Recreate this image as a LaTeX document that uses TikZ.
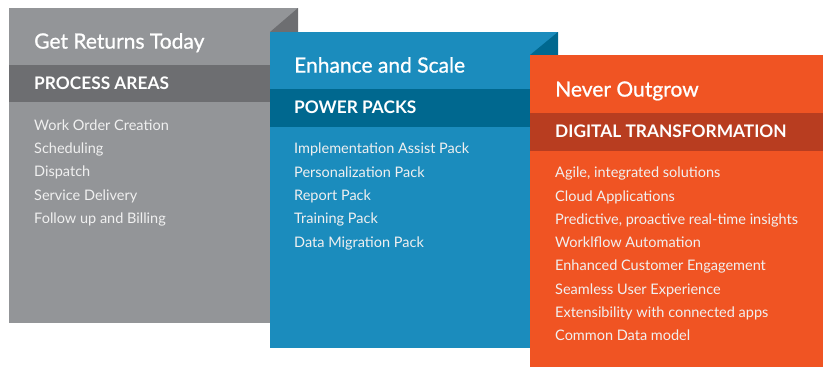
\documentclass[tikz,border=0pt]{standalone}
\usepackage{fontspec}
\setmainfont{Lato}
\newfontfamily\titlefont[FakeBold=0.9]{Lato}
\definecolor{glight}{HTML}{939598}
\definecolor{gdark}{HTML}{6D6E71}
\definecolor{blight}{HTML}{1B8CBD}
\definecolor{bdark}{HTML}{00688F}
\definecolor{olight}{HTML}{F05423}
\definecolor{odark}{HTML}{B83D20}
\tikzset{
  title/.style={anchor=west,inner sep=0pt,text=white,font=\titlefont\fontsize{21}{24}\selectfont,text height=0.72em,text depth=0.2em},
  band/.style={anchor=west,inner sep=0pt,text=white,font=\bfseries\fontsize{17.3}{20}\selectfont,text height=0.72em,text depth=0.2em},
  item/.style={anchor=west,inner sep=0pt,text=white!94!black,font=\fontsize{14.5}{17}\selectfont,text height=0.72em,text depth=0.2em},
}
\begin{document}
\begin{tikzpicture}[x=1pt,y=-1pt]
\useasboundingbox (0,0) rectangle (823,367);
% gray card
\fill[glight] (9,8) rectangle (298,323);
\fill[gdark] (9,65) rectangle (298,102);
\fill[gdark] (298,8) -- (270,32) -- (298,32) -- cycle;
% blue card
\fill[blight] (270,32) rectangle (558,348);
\fill[bdark] (270,89) rectangle (558,127);
\fill[bdark] (558,32) -- (530,55) -- (558,55) -- cycle;
% orange card
\fill[olight] (530,55) rectangle (823,367);
\fill[odark] (530,113) rectangle (823,151);
% gray texts
\node[title] (t1) at (34,46) {Get Returns Today};
\node[band] (b1) at (34,87) {PROCESS AREAS};
\node[item] (g1) at (34,128) {Work Order Creation};
\node[item] (g2) at (34,151) {Scheduling};
\node[item] (g3) at (34,174) {Dispatch};
\node[item] (g4) at (34,198) {Service Delivery};
\node[item] (g5) at (34,221) {Follow up and Billing};
% blue texts
\node[title] (t2) at (294,70) {Enhance and Scale};
\node[band] (b2) at (294,111) {POWER PACKS};
\node[item] (p1) at (294,151) {Implementation Assist Pack};
\node[item] (p2) at (294,175) {Personalization Pack};
\node[item] (p3) at (294,198) {Report Pack};
\node[item] (p4) at (294,221) {Training Pack};
\node[item] (p5) at (294,245) {Data Migration Pack};
% orange texts
\node[title] (t3) at (555,94) {Never Outgrow};
\node[band] (b3) at (555,135) {DIGITAL TRANSFORMATION};
\node[item] (o1) at (555,175) {Agile, integrated solutions};
\node[item] (o2) at (555,199) {Cloud Applications};
\node[item] (o3) at (555,222) {Predictive, proactive real-time insights};
\node[item] (o4) at (555,245) {Worklflow Automation};
\node[item] (o5) at (555,268) {Enhanced Customer Engagement};
\node[item] (o6) at (555,292) {Seamless User Experience};
\node[item] (o7) at (555,315) {Extensibility with connected apps};
\node[item] (o8) at (555,338) {Common Data model};
\end{tikzpicture}
\end{document}
